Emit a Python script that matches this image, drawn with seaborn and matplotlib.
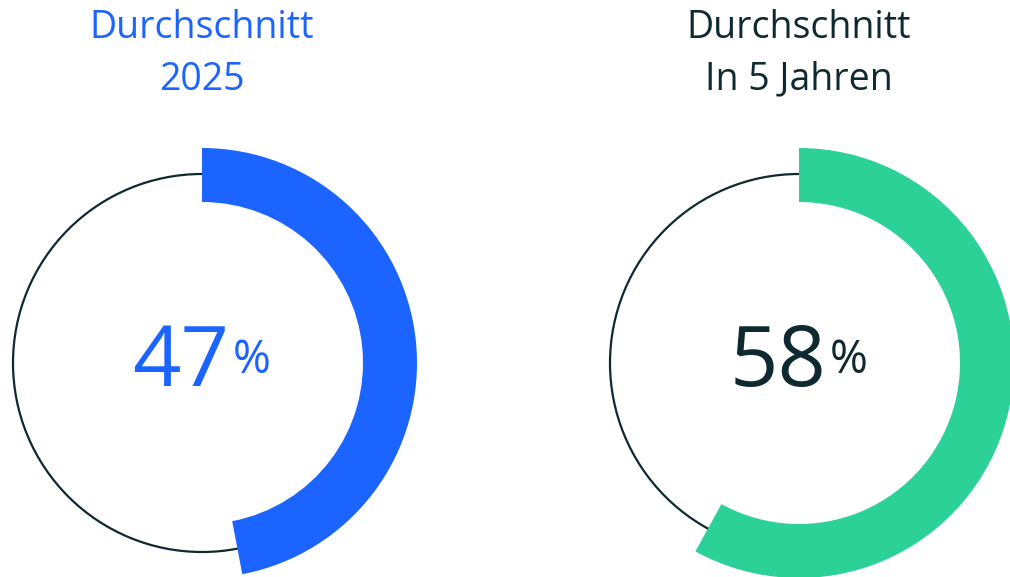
import matplotlib
matplotlib.use("Agg")
import matplotlib.pyplot as plt
from matplotlib.patches import Circle
import seaborn as sns

# data
titles = ["Durchschnitt\n2025", "Durchschnitt\nIn 5 Jahren"]
values = [47, 58]
arc_colors = ["#1b64ff", "#2bd196"]
text_colors = ["#1b64ff", "#0e2a30"]

sns.set_theme(style="white")
plt.rcParams['font.family'] = ['Open Sans', 'DejaVu Sans']

W, H = 1010, 577
fig = plt.figure(figsize=(W / 100, H / 100), dpi=100)
fig.patch.set_facecolor("white")

centers = [(202, 363), (799, 363)]
R_OUT, RING, R_THIN = 215, 54, 189
HALF = 235

for i, (cx, cy) in enumerate(centers):
    ax = fig.add_axes([(cx - HALF) / W, (H - cy - HALF) / H, 2 * HALF / W, 2 * HALF / H])
    ax.add_patch(Circle((0, 0), R_THIN, fill=False, lw=1.6, ec="#0e2a30", zorder=1))
    wedges, _ = ax.pie([values[i], 100 - values[i]], radius=R_OUT, startangle=90,
                       counterclock=False, colors=[arc_colors[i], "none"],
                       wedgeprops=dict(width=RING, linewidth=0))
    for w in wedges:
        w.set_zorder(2)
    ax.set_xlim(-HALF, HALF)
    ax.set_ylim(-HALF, HALF)
    ax.set_aspect("equal")
    ax.axis("off")
    # center text
    ax.text(27, -1, f"{values[i]}", fontsize=61, color=text_colors[i],
            ha="right", va="center")
    ax.text(31, 2, "%", fontsize=33, color=text_colors[i],
            ha="left", va="center")
    # title
    fig.text(cx / W, 1 - 54 / H, titles[i], fontsize=27, color=text_colors[i],
             ha="center", va="center", linespacing=1.45)

fig.savefig("out.png", dpi=100, facecolor="white")
